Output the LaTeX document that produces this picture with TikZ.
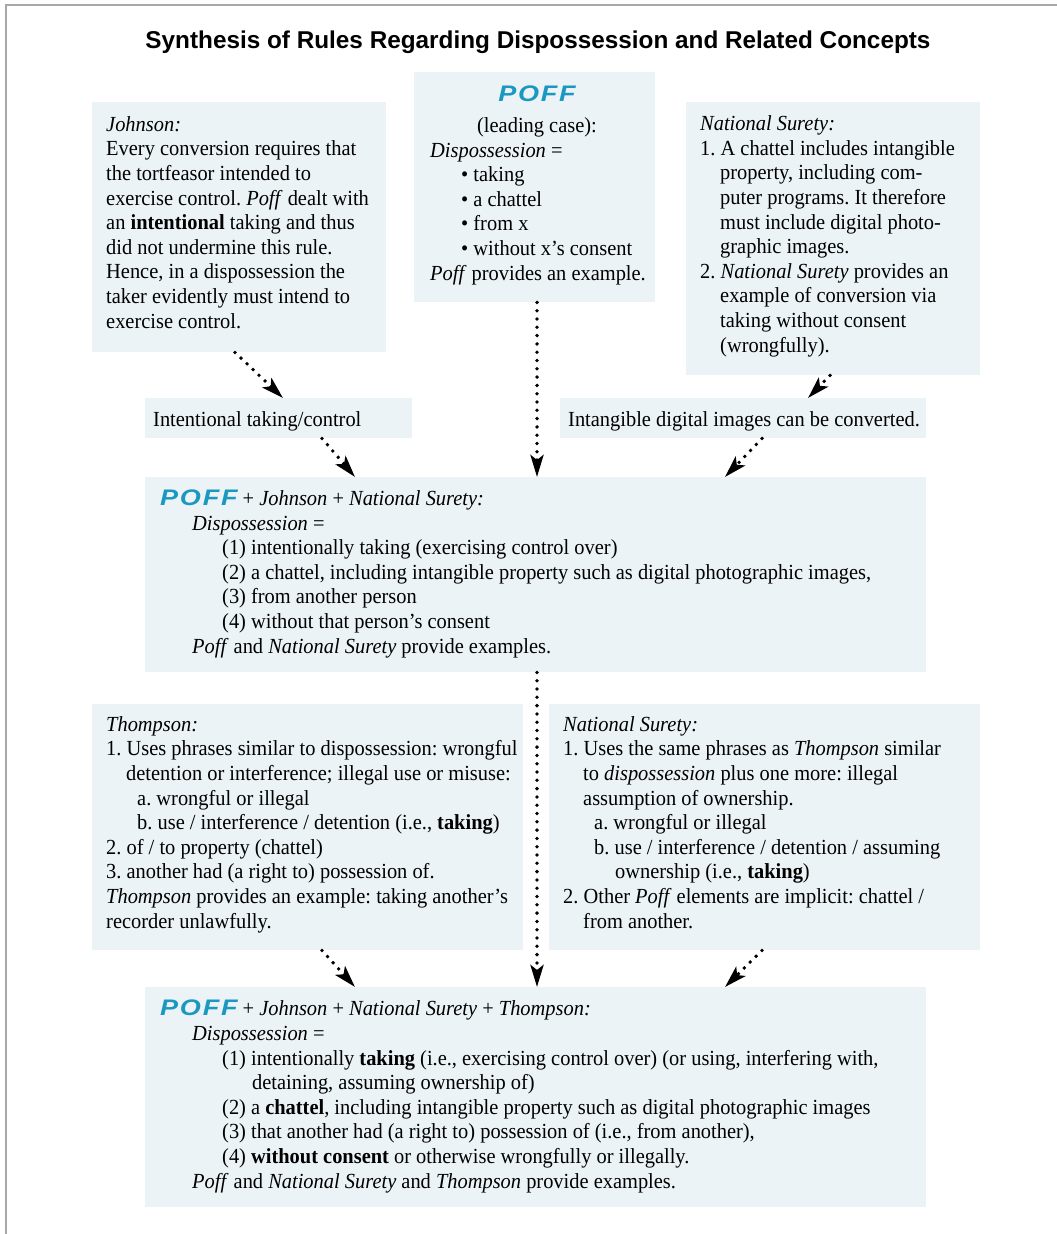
\documentclass[tikz,border=0pt]{standalone}
\usepackage{fontspec}
\setmainfont{Liberation Serif}[FakeStretch=0.95]
\newfontfamily\titlefont{Liberation Sans}
\newfontfamily\pofffont{Liberation Sans}[LetterSpace=8,FakeStretch=1.2]
\usetikzlibrary{arrows.meta,calc}
\definecolor{boxfill}{HTML}{EBF3F6}
\definecolor{poffblue}{HTML}{1B98C0}
\definecolor{framegray}{HTML}{A8A8A8}
\newcommand\poffmark{{\pofffont\bfseries\itshape\fontsize{22.5}{22.5}\selectfont\color{poffblue}POFF}}
\frenchspacing
\begin{document}
\begin{tikzpicture}[x=1pt,y=-1pt,
  box/.style={fill=boxfill, draw=none, inner sep=0pt, anchor=north west},
  txt/.style={anchor=base west, inner sep=0pt, align=left, font=\fontsize{21.5}{24.6}\selectfont\frenchspacing},
  ctxt/.style={anchor=base, inner sep=0pt, align=center, font=\fontsize{21.5}{24.6}\selectfont},
  arr/.style={line width=3.8pt, dash pattern=on 0pt off 8.3pt, line cap=round,
    -{Stealth[length=22pt,width=13pt,inset=5pt]}}]
\useasboundingbox (0,0) rectangle (1057,1234);
\draw[framegray, line width=1.5pt] (6,1234) -- (6,5) -- (1057,5);

\node[anchor=base, inner sep=0pt] (title) at (538,48)
  {\resizebox{785pt}{!}{\titlefont\bfseries\fontsize{21}{21}\selectfont Synthesis of Rules Regarding Dispossession and Related Concepts}};

% boxes
\node[box, minimum width=294, minimum height=250] (johnson) at (92,102) {};
\node[box, minimum width=241, minimum height=230] (poff) at (414,72) {};
\node[box, minimum width=294, minimum height=273] (ns) at (686,102) {};
\node[box, minimum width=267, minimum height=40] (intent) at (145,398) {};
\node[box, minimum width=366, minimum height=40] (intang) at (560,398) {};
\node[box, minimum width=781, minimum height=195] (mid) at (145,477) {};
\node[box, minimum width=431, minimum height=246] (thompson) at (92,704) {};
\node[box, minimum width=431, minimum height=246] (ns2) at (549,704) {};
\node[box, minimum width=781, minimum height=220] (final) at (145,987) {};

% texts (anchored at the baseline of their last line)
\node[txt] (johnsonT) at (106,328) {\textit{Johnson:}\\
Every conversion requires that\\
the tortfeasor intended to\\
exercise control. \textit{Poff} dealt with\\
an \textbf{intentional} taking and thus\\
did not undermine this rule.\\
Hence, in a dispossession the\\
taker evidently must intend to\\
exercise control.};

\node[ctxt] (poffH) at (537,101) {\poffmark};
\node[ctxt] (poffL) at (537,132) {(leading case):};
\node[txt] (poffT) at (430,280) {\textit{Dispossession} =\\
\hspace*{31pt}• taking\\
\hspace*{31pt}• a chattel\\
\hspace*{31pt}• from x\\
\hspace*{31pt}• without x's consent\\
\textit{Poff} provides an example.};

\node[txt] (nsT) at (700,352) {\textit{National Surety:}\\
1. A chattel includes intangible\\
\hspace*{20pt}property, including com-\\
\hspace*{20pt}puter programs. It therefore\\
\hspace*{20pt}must include digital photo-\\
\hspace*{20pt}graphic images.\\
2. \textit{National Surety} provides an\\
\hspace*{20pt}example of conversion via\\
\hspace*{20pt}taking without consent\\
\hspace*{20pt}(wrongfully).};

\node[txt] (intentT) at (153,426) {Intentional taking/control};
\node[txt] (intangT) at (568,426) {Intangible digital images can be converted.};

\node[txt] (midT) at (160,653) {\poffmark{} + \textit{Johnson} + \textit{National Surety:}\\
\hspace*{32pt}\textit{Dispossession} =\\
\hspace*{62pt}(1) intentionally taking (exercising control over)\\
\hspace*{62pt}(2) a chattel, including intangible property such as digital photographic images,\\
\hspace*{62pt}(3) from another person\\
\hspace*{62pt}(4) without that person's consent\\
\hspace*{32pt}\textit{Poff} and \textit{National Surety} provide examples.};

\node[txt] (thompsonT) at (106,928) {\textit{Thompson:}\\
1. Uses phrases similar to dispossession: wrongful\\
\hspace*{20pt}detention or interference; illegal use or misuse:\\
\hspace*{31pt}a. wrongful or illegal\\
\hspace*{31pt}b. use / interference / detention (i.e., \textbf{taking})\\
2. of / to property (chattel)\\
3. another had (a right to) possession of.\\
\textit{Thompson} provides an example: taking another's\\
recorder unlawfully.};

\node[txt] (ns2T) at (563,928) {\textit{National Surety:}\\
1. Uses the same phrases as \textit{Thompson} similar\\
\hspace*{20pt}to \textit{dispossession} plus one more: illegal\\
\hspace*{20pt}assumption of ownership.\\
\hspace*{31pt}a. wrongful or illegal\\
\hspace*{31pt}b. use / interference / detention / assuming\\
\hspace*{52pt}ownership (i.e., \textbf{taking})\\
2. Other \textit{Poff} elements are implicit: chattel /\\
\hspace*{20pt}from another.};

\node[txt] (finalT) at (160,1188) {\poffmark{} + \textit{Johnson} + \textit{National Surety} + \textit{Thompson:}\\
\hspace*{32pt}\textit{Dispossession} =\\
\hspace*{62pt}(1) intentionally \textbf{taking} (i.e., exercising control over) (or using, interfering with,\\
\hspace*{92pt}detaining, assuming ownership of)\\
\hspace*{62pt}(2) a \textbf{chattel}, including intangible property such as digital photographic images\\
\hspace*{62pt}(3) that another had (a right to) possession of (i.e., from another),\\
\hspace*{62pt}(4) \textbf{without consent} or otherwise wrongfully or illegally.\\
\hspace*{32pt}\textit{Poff} and \textit{National Surety} and \textit{Thompson} provide examples.};

% connectors
\draw[arr] ($(johnson.south west)+(143,0)$) -- ($(intent.north west)+(138,0)$);
\draw[arr] ($(intent.south west)+(177,0)$) -- ($(mid.north west)+(210,0)$);
\draw[arr] ($(poff.south west)+(123,0)$) -- ($(mid.north west)+(392,0)$);
\draw[arr] ($(ns.south west)+(144,0)$) -- ($(intang.north west)+(248,0)$);
\draw[arr] ($(intang.south west)+(202,0)$) -- ($(mid.north west)+(580,0)$);
\draw[arr] ($(mid.south west)+(392,0)$) -- ($(final.north west)+(392,0)$);
\draw[arr] ($(thompson.south west)+(230,0)$) -- ($(final.north west)+(210,0)$);
\draw[arr] ($(ns2.south west)+(213,0)$) -- ($(final.north west)+(580,0)$);
\end{tikzpicture}
\end{document}
